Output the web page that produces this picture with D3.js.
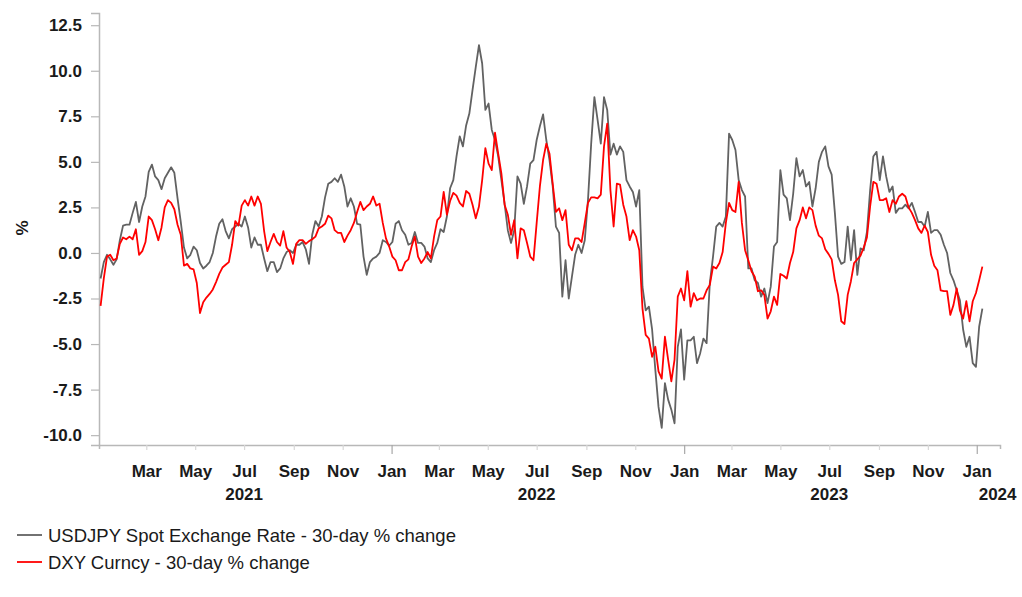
<!DOCTYPE html>
<html>
<head>
<meta charset="utf-8">
<script src="https://cdn.jsdelivr.net/npm/d3@7"></script>
<style>
  html, body { margin: 0; padding: 0; background: #ffffff; }
  svg { display: block; }
  text { font-family: "Liberation Sans", Arial, sans-serif; fill: #1a1a1a; }
</style>
</head>
<body>
<svg id="chart" width="1022" height="597"></svg>
<script>
// ---------------- DATA ----------------
const dates = [
"2021-01-03","2021-01-07","2021-01-11","2021-01-15","2021-01-19","2021-01-23","2021-01-27","2021-01-31",
"2021-02-04","2021-02-08","2021-02-12","2021-02-16","2021-02-20","2021-02-24","2021-02-28",
"2021-03-04","2021-03-08","2021-03-12","2021-03-16","2021-03-20","2021-03-24","2021-03-28",
"2021-04-01","2021-04-05","2021-04-09","2021-04-13","2021-04-17","2021-04-21","2021-04-25","2021-04-29",
"2021-05-03","2021-05-07","2021-05-11","2021-05-15","2021-05-19","2021-05-23","2021-05-27","2021-05-31",
"2021-06-04","2021-06-08","2021-06-12","2021-06-16","2021-06-20","2021-06-24","2021-06-28",
"2021-07-02","2021-07-06","2021-07-10","2021-07-14","2021-07-18","2021-07-22","2021-07-26","2021-07-30",
"2021-08-03","2021-08-07","2021-08-11","2021-08-15","2021-08-19","2021-08-23","2021-08-27","2021-08-31",
"2021-09-04","2021-09-08","2021-09-12","2021-09-16","2021-09-20","2021-09-24","2021-09-28",
"2021-10-02","2021-10-06","2021-10-10","2021-10-14","2021-10-18","2021-10-22","2021-10-26","2021-10-30",
"2021-11-03","2021-11-07","2021-11-11","2021-11-15","2021-11-19","2021-11-23","2021-11-27",
"2021-12-01","2021-12-05","2021-12-09","2021-12-13","2021-12-17","2021-12-21","2021-12-25","2021-12-29",
"2022-01-02","2022-01-06","2022-01-10","2022-01-14","2022-01-18","2022-01-22","2022-01-26","2022-01-30",
"2022-02-03","2022-02-07","2022-02-11","2022-02-15","2022-02-19","2022-02-23","2022-02-27",
"2022-03-03","2022-03-07","2022-03-11","2022-03-15","2022-03-19","2022-03-23","2022-03-27","2022-03-31",
"2022-04-04","2022-04-08","2022-04-12","2022-04-16","2022-04-20","2022-04-24","2022-04-28",
"2022-05-02","2022-05-06","2022-05-10","2022-05-14","2022-05-18","2022-05-22","2022-05-26","2022-05-30",
"2022-06-03","2022-06-07","2022-06-11","2022-06-15","2022-06-19","2022-06-23","2022-06-27",
"2022-07-01","2022-07-05","2022-07-09","2022-07-13","2022-07-17","2022-07-21","2022-07-25","2022-07-29",
"2022-08-02","2022-08-06","2022-08-10","2022-08-14","2022-08-18","2022-08-22","2022-08-26","2022-08-30",
"2022-09-03","2022-09-07","2022-09-11","2022-09-15","2022-09-19","2022-09-23","2022-09-27",
"2022-10-01","2022-10-05","2022-10-09","2022-10-13","2022-10-17","2022-10-21","2022-10-25","2022-10-29",
"2022-11-02","2022-11-06","2022-11-10","2022-11-14","2022-11-18","2022-11-22","2022-11-26","2022-11-30",
"2022-12-04","2022-12-08","2022-12-12","2022-12-16","2022-12-20","2022-12-24","2022-12-28",
"2023-01-01","2023-01-05","2023-01-09","2023-01-13","2023-01-17","2023-01-21","2023-01-25","2023-01-29",
"2023-02-02","2023-02-06","2023-02-10","2023-02-14","2023-02-18","2023-02-22","2023-02-26",
"2023-03-02","2023-03-06","2023-03-10","2023-03-14","2023-03-18","2023-03-22","2023-03-26","2023-03-30",
"2023-04-03","2023-04-07","2023-04-11","2023-04-15","2023-04-19","2023-04-23","2023-04-27",
"2023-05-01","2023-05-05","2023-05-09","2023-05-13","2023-05-17","2023-05-21","2023-05-25","2023-05-29",
"2023-06-02","2023-06-06","2023-06-10","2023-06-14","2023-06-18","2023-06-22","2023-06-26","2023-06-30",
"2023-07-04","2023-07-08","2023-07-12","2023-07-16","2023-07-20","2023-07-24","2023-07-28",
"2023-08-01","2023-08-05","2023-08-09","2023-08-13","2023-08-17","2023-08-21","2023-08-25","2023-08-29",
"2023-09-02","2023-09-06","2023-09-10","2023-09-14","2023-09-18","2023-09-22","2023-09-26","2023-09-30",
"2023-10-04","2023-10-08","2023-10-12","2023-10-16","2023-10-20","2023-10-24","2023-10-28",
"2023-11-01","2023-11-05","2023-11-09","2023-11-13","2023-11-17","2023-11-21","2023-11-25","2023-11-29",
"2023-12-03","2023-12-07","2023-12-11","2023-12-15","2023-12-19","2023-12-23","2023-12-27","2023-12-31",
"2024-01-04","2024-01-08"
];

// USDJPY Spot Exchange Rate - 30-day % change
const usdjpy = [
-1.4,-0.5,-0.1,-0.35,-0.65,-0.35,0.7,1.5,1.55,1.55,
2.2,2.8,1.7,2.55,3.1,4.45,4.85,4.2,4.0,3.5,
4.1,4.4,4.7,4.4,3.0,1.7,0.3,-0.3,-0.1,0.35,
0.15,-0.55,-0.85,-0.7,-0.5,0.0,0.9,1.6,1.85,1.2,
0.8,1.3,1.45,1.6,1.45,2.0,1.4,0.3,0.85,0.45,
0.45,-0.3,-1.0,-0.5,-0.5,-1.05,-0.85,-0.3,0.05,0.15,
0.0,0.45,0.45,0.6,0.2,-0.6,1.0,1.75,1.45,2.0,
3.05,3.8,3.9,4.1,3.9,4.3,3.65,2.55,3.0,2.55,
1.6,1.55,-0.2,-1.2,-0.5,-0.3,-0.2,0.0,0.7,0.6,
0.4,0.6,1.6,1.75,1.25,1.0,0.45,0.55,1.15,0.55,
0.55,0.35,-0.3,-0.5,0.15,0.55,1.3,1.15,2.0,3.55,
4.0,5.3,6.4,5.85,7.0,7.65,8.95,10.2,11.4,10.4,
7.85,8.2,6.75,6.2,5.3,4.0,2.7,1.25,0.55,1.25,
4.2,3.8,2.7,3.65,4.9,5.1,6.2,6.95,7.6,6.2,
5.1,3.65,1.45,1.1,-2.4,-0.4,-2.5,-1.3,-0.1,0.45,
0.0,0.7,2.9,6.0,8.55,7.3,6.0,8.55,7.85,5.4,
6.0,5.4,5.85,5.55,4.0,3.65,3.35,2.55,3.45,-1.85,
-3.15,-2.95,-4.2,-6.4,-8.45,-9.6,-7.15,-8.05,-8.6,-9.35,
-5.15,-4.2,-6.95,-4.8,-4.8,-4.6,-6.05,-5.5,-4.7,-4.95,
-1.65,-0.2,1.45,1.65,1.45,2.0,6.55,6.2,5.65,4.0,
3.45,3.1,-0.85,-0.85,-1.5,-1.65,-2.4,-1.95,-2.75,-1.85,
0.35,0.6,4.55,3.2,3.0,1.8,3.25,5.2,4.2,4.55,
3.65,3.9,2.55,3.55,5.0,5.55,5.85,4.75,4.3,2.2,
-0.2,-0.6,-0.5,1.45,-0.4,1.25,-1.2,0.25,0.15,1.15,
3.45,5.3,5.55,4.0,5.3,4.2,3.35,3.65,2.2,2.45,
2.45,2.65,2.45,2.75,2.25,1.7,1.7,1.45,2.25,1.1,
1.25,1.25,1.0,0.45,0.0,-1.1,-1.5,-2.05,-2.6,-4.2,
-5.15,-4.6,-6.05,-6.25,-4.05,-3.05
];

// DXY Curncy - 30-day % change
const dxy = [
-2.9,-1.4,-0.2,-0.1,-0.4,-0.3,0.5,0.85,0.75,0.9,
0.75,1.3,-0.1,0.1,0.6,2.0,1.8,1.3,0.7,1.4,
2.5,2.9,2.75,2.4,1.55,1.0,-0.7,-0.6,-0.85,-0.9,
-1.65,-3.3,-2.7,-2.45,-2.25,-2.0,-1.6,-1.15,-0.8,-0.65,
-0.5,0.45,1.75,1.5,2.6,2.9,2.6,3.1,2.6,3.1,
2.7,1.2,0.1,0.6,1.05,0.6,0.4,1.2,0.3,0.05,
-0.6,0.5,0.7,0.7,0.5,0.65,0.75,0.9,1.35,1.45,
1.6,2.05,1.9,1.25,1.1,1.1,0.6,0.95,1.25,1.65,
2.25,2.8,2.35,2.55,2.7,3.1,2.6,2.7,1.65,0.8,
0.35,-0.2,-0.4,-0.95,-0.95,-0.5,-0.35,0.35,0.9,-0.2,
-0.55,-0.3,0.05,-0.3,0.9,1.8,2.0,3.35,2.1,2.85,
3.3,3.15,2.75,2.55,3.4,3.25,2.65,1.9,2.55,4.0,
5.75,4.9,4.55,6.6,5.45,4.35,2.65,2.1,1.0,1.8,
-0.3,1.35,1.25,0.55,-0.2,-0.4,1.65,3.65,5.1,6.0,
5.45,3.8,2.25,2.45,1.8,2.35,0.45,0.15,0.8,0.8,
0.6,1.65,2.75,3.05,3.05,3.0,3.2,5.85,7.1,3.45,
1.45,3.8,3.75,2.65,2.0,0.7,1.25,0.9,0.15,-3.05,
-4.5,-4.7,-5.7,-5.15,-6.5,-6.9,-4.6,-5.85,-7.05,-5.85,
-2.4,-1.95,-2.6,-1.0,-2.95,-2.2,-2.6,-2.5,-2.5,-2.05,
-1.75,-0.75,-0.85,-0.55,0.05,1.65,2.75,2.35,2.25,3.9,
1.65,0.15,-0.4,-1.0,-1.3,-2.1,-2.05,-2.3,-3.6,-3.2,
-2.4,-2.85,-1.15,-1.25,-1.4,-0.55,0.05,1.35,1.8,2.5,
1.9,2.5,2.35,1.5,0.95,0.8,0.2,-0.05,-0.35,-1.5,
-2.3,-3.75,-3.9,-2.3,-1.55,-0.55,-0.35,-0.15,0.3,0.85,
2.55,3.9,3.8,2.9,2.9,3.0,2.25,2.9,2.7,3.1,
3.25,3.1,2.5,2.2,1.8,1.35,1.1,1.5,1.15,-0.1,
-0.7,-0.95,-2.05,-2.1,-2.1,-3.4,-2.85,-1.95,-3.15,-3.6,
-2.65,-3.75,-2.65,-2.2,-1.5,-0.75
];

const seriesNames = ["USDJPY Spot Exchange Rate - 30-day % change", "DXY Curncy - 30-day % change"];
const seriesColors = ["#626262", "#ff0000"];

const yTicks = [-10.0, -7.5, -5.0, -2.5, 0.0, 2.5, 5.0, 7.5, 10.0, 12.5];
const monthTicks = ["2021-03-01","2021-05-01","2021-07-01","2021-09-01","2021-11-01",
  "2022-01-01","2022-03-01","2022-05-01","2022-07-01","2022-09-01","2022-11-01",
  "2023-01-01","2023-03-01","2023-05-01","2023-07-01","2023-09-01","2023-11-01","2024-01-01"];
const yearLabels = ["2021","2022","2023","2024"];
const yearLabelDates = ["2021-07-01","2022-07-01","2023-07-01","2024-01-27"];
const xDomain = ["2021-01-01","2024-01-30"];
const yDomain = [-10.54, 13.17];

// ---------------- CHART ----------------
(function () {
const parse = d3.utcParse("%Y-%m-%d");
const svg = d3.select("#chart");
const mLeft = 99, mRight = 1000, mTop = 13, mBottom = 445;
const axisFont = "Liberation Sans, Arial, sans-serif";

const x = d3.scaleUtc().domain(xDomain.map(parse)).range([mLeft, mRight]);
const y = d3.scaleLinear().domain(yDomain).range([mBottom, mTop]);

const n = Math.min(dates.length, usdjpy.length, dxy.length);
const parsedDates = dates.map(parse);

// Y axis
const yAxis = d3.axisLeft(y).tickValues(yTicks).tickFormat(d => d.toFixed(1)).tickSize(8).tickPadding(9);
const gy = svg.append("g").attr("transform", `translate(${mLeft},0)`).call(yAxis);
gy.select(".domain").attr("stroke", "#b8b8b8").attr("stroke-width", 1.5);
gy.selectAll(".tick line").attr("stroke", "#b8b8b8").attr("stroke-width", 1.2);
gy.selectAll(".tick text").attr("font-size", 17).attr("font-weight", "bold")
  .attr("font-family", axisFont).attr("fill", "#1f1f1f");

// X axis
const tickDates = monthTicks.map(parse);
const xAxis = d3.axisBottom(x).tickValues(tickDates).tickFormat(d3.utcFormat("%b"))
  .tickSize(4).tickPadding(16);
const gx = svg.append("g").attr("transform", `translate(0,${mBottom})`).call(xAxis);
gx.select(".domain").attr("stroke", "#b8b8b8").attr("stroke-width", 1.5);
gx.selectAll(".tick line")
  .attr("stroke", d => d.getUTCMonth() === 0 ? "#a8a8a8" : "#d8d8d8")
  .attr("stroke-width", 1.2)
  .attr("y2", d => d.getUTCMonth() === 0 ? 9 : 5);
gx.selectAll(".tick text").attr("font-size", 17).attr("font-weight", "bold")
  .attr("font-family", axisFont).attr("fill", "#1f1f1f");

// Year labels
svg.append("g").selectAll("text").data(yearLabels).join("text")
  .attr("x", (d, i) => x(parse(yearLabelDates[i])))
  .attr("y", 500)
  .attr("text-anchor", "middle")
  .attr("font-size", 17)
  .attr("font-weight", "bold")
  .attr("fill", "#1f1f1f")
  .text(d => d);

// Y axis title
svg.append("text")
  .attr("transform", "translate(28,228) rotate(-90)")
  .attr("text-anchor", "middle")
  .attr("font-size", 17)
  .attr("font-weight", "bold")
  .attr("fill", "#1f1f1f")
  .text("%");

// Lines
const seriesData = [usdjpy, dxy];
const line = d3.line().x(d => x(d[0])).y(d => y(d[1]));
seriesData.forEach((vals, s) => {
  const pts = d3.range(n).map(i => [parsedDates[i], vals[i]]);
  svg.append("path")
    .datum(pts)
    .attr("fill", "none")
    .attr("stroke", seriesColors[s])
    .attr("stroke-width", 1.8)
    .attr("stroke-linejoin", "round")
    .attr("d", line);
});

// Legend
const lg = svg.append("g");
seriesNames.forEach((name, i) => {
  const cy = 535 + i * 27;
  lg.append("line").attr("x1", 17).attr("x2", 42).attr("y1", cy).attr("y2", cy)
    .attr("stroke", seriesColors[i]).attr("stroke-width", 1.8);
  lg.append("text").attr("x", 48).attr("y", cy + 6.5).attr("font-size", 18.5).text(name);
});
})();
</script>
</body>
</html>
